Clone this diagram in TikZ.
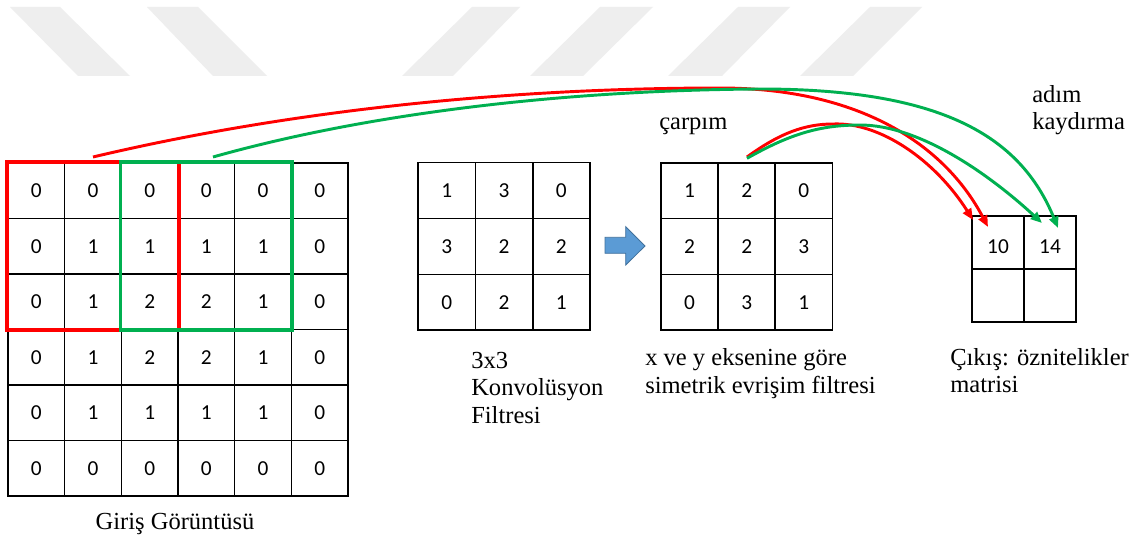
\documentclass[tikz,border=0pt]{standalone}
\usepackage{fontspec}
\setmainfont{Liberation Serif}
\newfontfamily\cellfont{Carlito}
\usetikzlibrary{arrows.meta}
\definecolor{boxred}{HTML}{FF0000}
\definecolor{boxgreen}{HTML}{00B050}
\definecolor{arrowblue}{HTML}{5B9BD5}
\definecolor{arrowedge}{HTML}{41719C}
\definecolor{wmgray}{HTML}{EEEEEE}
\begin{document}
\begin{tikzpicture}[x=0.75pt,y=-0.75pt,
  cell/.style={draw=black, line width=1.15pt, inner sep=0pt,
    font=\cellfont\fontsize{16}{18}\selectfont},
  bigcell/.style={cell, minimum width=42.5pt, minimum height=41.6pt},
  filtcell/.style={cell, minimum width=42.9pt, minimum height=41.8pt},
  outcell/.style={cell, minimum width=39pt, minimum height=39.75pt,
    text height=16pt, text depth=0pt},
  caption/.style={font=\fontsize{18.4}{20.3}\selectfont, inner sep=0pt,
    anchor=base west, align=left},
  window/.style={line width=2.7pt},
  flow/.style={line width=2.2pt, -{Triangle[length=8.5pt,width=7pt]}},
  stripe/.style={fill=wmgray, draw=none}]

\useasboundingbox (0,0) rectangle (1141,538);
\fill[white] (0,0) rectangle (1141,538);

% faint background stripes
\fill[stripe] (10,7) -- (60,7) -- (130,76) -- (78,76) -- cycle;
\fill[stripe] (147,7) -- (198,7) -- (267,76) -- (213,76) -- cycle;
\fill[stripe] (472,7) -- (520,7) -- (453,76) -- (402,76) -- cycle;
\fill[stripe] (600,7) -- (653,7) -- (583,76) -- (530,76) -- cycle;
\fill[stripe] (738,7) -- (790,7) -- (722,76) -- (668,76) -- cycle;
\fill[stripe] (870,7) -- (922,7) -- (853,76) -- (800,76) -- cycle;

% input image 6x6
\foreach \row [count=\i from 0] in {{0,0,0,0,0,0},{0,1,1,1,1,0},{0,1,2,2,1,0},{0,1,2,2,1,0},{0,1,1,1,1,0},{0,0,0,0,0,0}}{
  \foreach \v [count=\j from 0] in \row {
    \node[bigcell] (g\i\j) at (36.33+56.67*\j, 190.75+55.5*\i) {\v};
  }
}
\node[caption, anchor=base] (incap) at (175,529) {Giriş Görüntüsü};

% 3x3 convolution filter
\foreach \row [count=\i from 0] in {{1,3,0},{3,2,2},{0,2,1}}{
  \foreach \v [count=\j from 0] in \row {
    \node[filtcell] (f\i\j) at (446.67+57.33*\j, 190.6+55.8*\i) {\v};
  }
}
% multi-line captions are anchored at the baseline of their last line
\node[caption] (fcap) at (471,423) {3x3\\Konvolüsyon\\Filtresi};

% flipped filter
\foreach \row [count=\i from 0] in {{1,2,0},{2,2,3},{0,3,1}}{
  \foreach \v [count=\j from 0] in \row {
    \node[filtcell] (s\i\j) at (689.55+57.1*\j, 190.85+55.7*\i) {\v};
  }
}
\node[caption] (scap) at (645,393) {x ve y eksenine göre\\simetrik evrişim filtresi};

% output feature map 2x2
\node[outcell] (o00) at (998,242.5) {10};
\node[outcell] (o01) at (1050,242.5) {14};
\node[outcell] (o10) at (998,295.5) {};
\node[outcell] (o11) at (1050,295.5) {};
\node[caption] (ocap) at (950,392.7) {Çıkış: öznitelikler\\matrisi};

\node[caption] (prodlbl) at (659,130) {çarpım};
\node[caption] (steplbl) at (1032,130) {adım\\kaydırma};

% sliding windows
\draw[window, boxred] (g00.north west) rectangle (g22.south east);
\draw[window, boxgreen] (g02.north west) rectangle (g24.south east);

% block arrow between the filters
\draw[fill=arrowblue, draw=arrowedge, line width=0.6pt]
  (605,237.3) -- (625.7,237.3) -- (625.7,226.7) -- (645,246)
  -- (625.7,265) -- (625.7,253.3) -- (605,253.3) -- cycle;

% connector end points
\coordinate (redfrom) at (93,157);
\coordinate (greenfrom) at (213,157);
\coordinate (prodfrom) at (747,157);
\coordinate (redlongtip) at (988,227);
\coordinate (redshorttip) at (973,220);
\coordinate (greenshorttip) at (1042,223);
\coordinate (greenlongtip) at (1058,228);

% window -> output and product -> output
\draw[flow, boxred] (redfrom) .. controls (300,108) and (520,88) .. (720,88)
  .. controls (860,88) and (945,145) .. (redlongtip);
\draw[flow, boxred] (prodfrom) .. controls (780,133) and (805,124) .. (833,124)
  .. controls (880,122) and (935,160) .. (redshorttip);
\draw[flow, boxgreen] (greenfrom) .. controls (380,110) and (580,90) .. (760,89)
  .. controls (940,89) and (1020,135) .. (greenlongtip);
\draw[flow, boxgreen] ([yshift=-1pt]prodfrom) .. controls (790,134) and (820,125) .. (860,125)
  .. controls (920,125) and (990,175) .. (greenshorttip);
\end{tikzpicture}
\end{document}
